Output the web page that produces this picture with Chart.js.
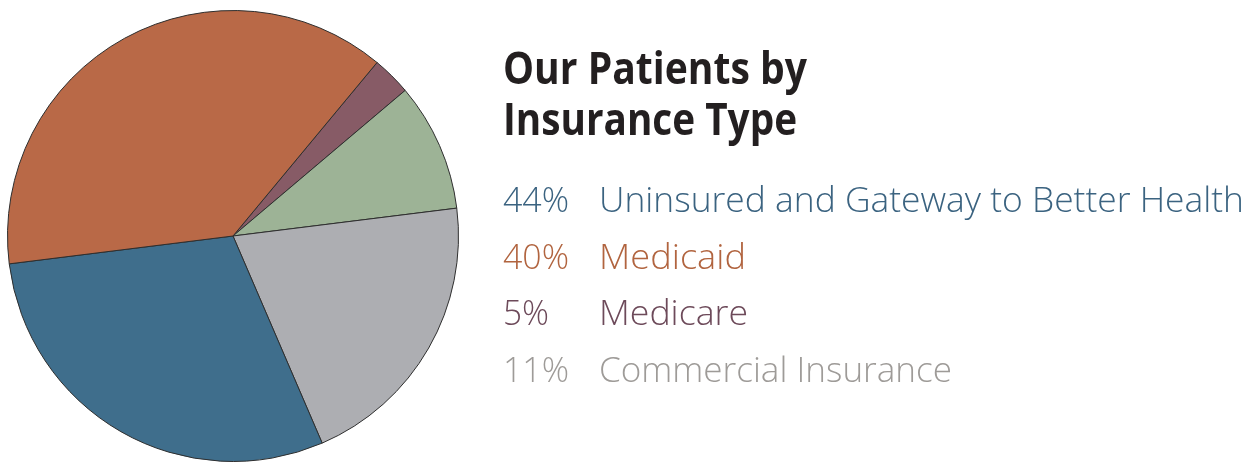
<!DOCTYPE html>
<html>
<head>
<meta charset="utf-8">
<script src="https://cdn.jsdelivr.net/npm/chart.js@4.4.1/dist/chart.umd.min.js"></script>
<style>
  html, body { margin: 0; padding: 0; background: #ffffff; }
  #wrap { position: relative; width: 1253px; height: 466px; }
</style>
</head>
<body>
<div id="wrap"><canvas id="c" width="1253" height="466"></canvas></div>
<script>
// Pie slices, clockwise starting at the Medicare slice
const sliceLabels = ["Medicare", "Other", "Commercial Insurance", "Uninsured and Gateway to Better Health", "Medicaid"];
const sliceValues = [2.8, 9.2, 20.5, 29.5, 38.0];
const sliceColors = ["#875B66", "#9DB396", "#ADAEB2", "#3F6E8C", "#B96947"];

// Title and legend text
const titleLines = ["Our Patients by", "Insurance Type"];
const legendPercents = ["44%", "40%", "5%", "11%"];
const legendLabels = ["Uninsured and Gateway to Better Health", "Medicaid", "Medicare", "Commercial Insurance"];
const legendColors = ["#3B6380", "#B1643F", "#6D4A5A", "#9E9B98"];

const textPlugin = {
  id: 'sideText',
  afterDraw(chart) {
    const ctx = chart.ctx;
    function fit(text, x, y, w, font, color) {
      ctx.save();
      ctx.font = font;
      ctx.fillStyle = color;
      ctx.textBaseline = 'alphabetic';
      ctx.textAlign = 'left';
      const m = ctx.measureText(text).width;
      ctx.translate(x, y);
      ctx.scale(w / m, 1);
      ctx.fillText(text, 0, 0);
      ctx.restore();
    }
    const titleFont = 'bold 45px "Open Sans", "DejaVu Sans", sans-serif';
    const titleWidths = [304, 294];
    const titleBase = [84, 135];
    titleLines.forEach((t, i) => fit(t, 503, titleBase[i], titleWidths[i], titleFont, '#231F20'));

    const legFont = '300 35px "Open Sans", "DejaVu Sans", sans-serif';
    const pctWidths = [66, 66, 46, 66];
    const labWidths = [645, 147, 149, 353];
    legendPercents.forEach((p, i) => {
      const y = 212 + i * 56.5;
      fit(p, 503, y, pctWidths[i], legFont, legendColors[i]);
      fit(legendLabels[i], 599, y, labWidths[i], legFont, legendColors[i]);
    });
  }
};

new Chart(document.getElementById('c'), {
  type: 'pie',
  data: {
    labels: sliceLabels,
    datasets: [{
      data: sliceValues,
      backgroundColor: sliceColors,
      borderColor: '#2E2E2E',
      borderWidth: 1,
      hoverOffset: 0
    }]
  },
  options: {
    responsive: false,
    animation: false,
    rotation: 39.7,
    layout: { padding: { left: 7, top: 10, right: 794, bottom: 4 } },
    plugins: {
      legend: { display: false },
      tooltip: { enabled: false },
      title: { display: false }
    }
  },
  plugins: [textPlugin]
});
</script>
</body>
</html>
